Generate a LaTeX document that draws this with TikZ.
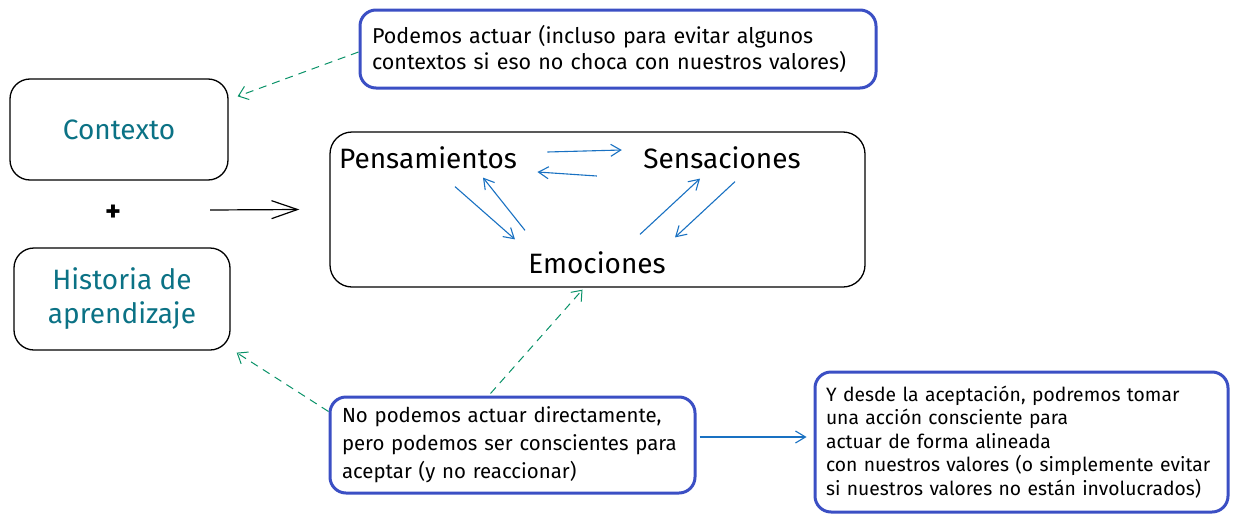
\documentclass[tikz,border=0pt]{standalone}
\usepackage{fontspec}
\setmainfont{Fira Sans}
\usetikzlibrary{arrows.meta,calc}

\definecolor{noteblue}{HTML}{3B4FC4}
\definecolor{flowblue}{HTML}{1971C2}
\definecolor{hintgreen}{HTML}{099268}
\definecolor{labelteal}{HTML}{0B7285}

\tikzset{
  sketchbox/.style={draw=black, line width=1.3pt, rounded corners=20pt},
  notebox/.style={draw=noteblue, line width=3pt, rounded corners=16pt, align=left, inner xsep=12pt},
  flow/.style={draw=flowblue, line width=1.1pt, -{Straight Barb[length=10pt,width=12pt]}},
  hint/.style={draw=hintgreen, line width=1pt, dash pattern=on 8pt off 6pt, -{Straight Barb[length=9pt,width=14pt]}},
  lead/.style={draw=black, line width=1.2pt, -{Straight Barb[length=26pt,width=18pt]}}
}

\begin{document}
\begin{tikzpicture}[x=1pt,y=1pt,yscale=-1]
\useasboundingbox (0,0) rectangle (1238,522);

%left boxes
\node[sketchbox, minimum width=218pt, minimum height=101pt] (ctx) at (119,129.5) {};
\node[text=labelteal, font=\fontsize{28}{32}\selectfont] (ctxlabel) at (ctx) {Contexto};
\node[sketchbox, minimum width=216pt, minimum height=102pt] (hist) at (122,299) {};
\node[text=labelteal, font=\fontsize{28}{34}\selectfont, align=center] (histlabel) at (hist) {Historia de\\aprendizaje};
\node[font=\bfseries\fontsize{30}{32}\selectfont] (plus) at (113,213) {+};

%main box
\node[sketchbox, rounded corners=22pt, minimum width=535pt, minimum height=155pt] (main) at (597.5,209.5) {};
\node[font=\fontsize{28}{32}\selectfont] (pen) at (428,158) {Pensamientos};
\node[font=\fontsize{28}{32}\selectfont] (sen) at (722,158) {Sensaciones};
\node[font=\fontsize{28}{32}\selectfont] (emo) at (597,263) {Emociones};

%notes
\node[notebox, minimum width=516pt, minimum height=78pt, text width=492pt, font=\fontsize{21.5}{26}\selectfont] (act) at (618,49)
  {Podemos actuar (incluso para evitar algunos\\contextos si eso no choca con nuestros valores)};
\node[notebox, minimum width=365pt, minimum height=96pt, text width=341pt, font=\fontsize{20.4}{28}\selectfont] (noact) at (512.5,445)
  {No podemos actuar directamente,\\pero podemos ser conscientes para\\aceptar (y no reaccionar)};
\node[notebox, minimum width=413pt, minimum height=140pt, text width=391pt, inner xsep=11pt, font=\fontsize{19.3}{23.5}\selectfont] (accept) at (1021.5,442)
  {Y desde la aceptación, podremos tomar\\una acción consciente para\\actuar de forma alineada\\con nuestros valores (o simplemente evitar\\si nuestros valores no están involucrados)};

%black arrow into main box
\coordinate (join) at (210,210);
\draw[lead] (join) -- ($(main.west)+(-30,0)$);

%arrows inside main box
\draw[flow] ($(pen.east)+(27,-6)$) -- ($(sen.west)+(-18,-8)$);
\draw[flow] ($(sen.west)+(-43,18)$) -- ($(pen.east)+(17,14)$);
\draw[flow] ($(pen.south)+(27,14)$) -- ($(emo.north)+(-82,-9)$);
\draw[flow] ($(emo.north)+(-72,-18)$) -- ($(pen.south)+(55,5)$);
\draw[flow] ($(emo.north)+(43,-14)$) -- ($(sen.south)+(-22,6)$);
\draw[flow] ($(sen.south)+(13,9)$) -- ($(emo.north)+(78,-11)$);

%dashed hints
\draw[hint] ($(act.west)+(0,3)$) -- ($(ctx.north east)+(9,18)$);
\draw[hint] ($(noact.north)+(-22,-2)$) -- ($(main.south)+(-15,2)$);
\draw[hint] ($(noact.north west)+(0,16)$) -- ($(hist.south east)+(6,2)$);

%to acceptance
\draw[flow] ($(noact.east)+(3,-8)$) -- ($(accept.west)+(-7,-5)$);

\end{tikzpicture}
\end{document}
